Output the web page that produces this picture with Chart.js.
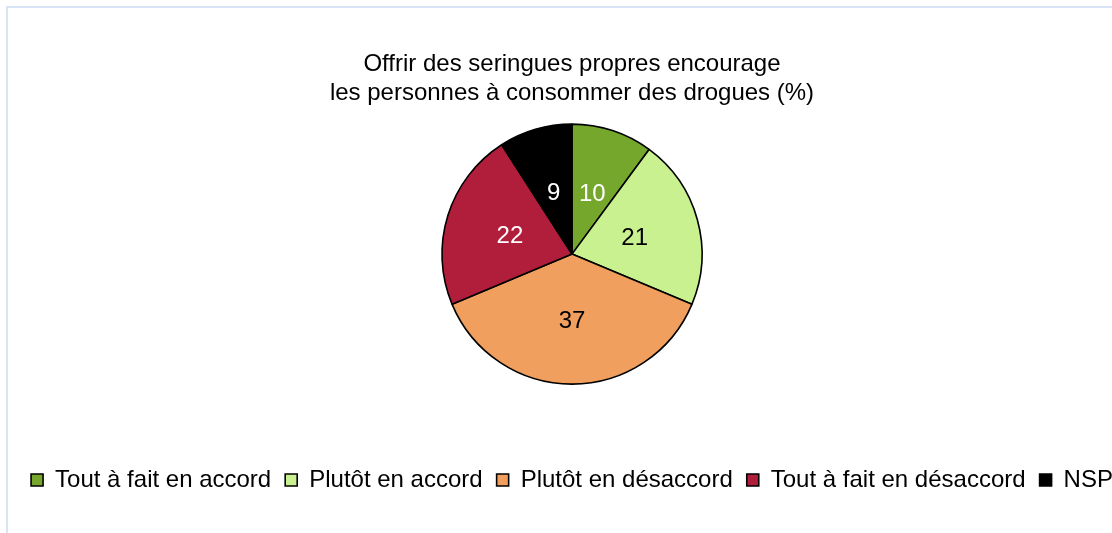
<!DOCTYPE html>
<html>
<head>
<meta charset="utf-8">
<script src="https://cdn.jsdelivr.net/npm/chart.js@4/dist/chart.umd.min.js"></script>
<style>
  html, body { margin: 0; padding: 0; background: #fff; overflow: hidden; width: 1112px; height: 533px; }
  #frame { position: absolute; left: 6px; top: 6px; border-left: 2px solid #d6e4f5; border-top: 2px solid #d6e4f5; width: 1140px; height: 540px; }
  #c { position: absolute; left: 0; top: 0; }
</style>
</head>
<body>
<div id="frame"><canvas id="c" width="1128" height="525"></canvas></div>
<script>
const titleLines = ["Offrir des seringues propres encourage", "les personnes à consommer des drogues (%)"];
const categories = ["Tout à fait en accord", "Plutôt en accord", "Plutôt en désaccord", "Tout à fait en désaccord", "NSP"];
const values = [10, 21, 37, 22, 9];
const sliceColors = ["#75a72d", "#c9f18f", "#f19f5e", "#b01e3c", "#000000"];
const labelColors = ["#ffffff", "#000000", "#000000", "#ffffff", "#ffffff"];

const FONT = '"Liberation Sans", Arial, Helvetica, sans-serif';
Chart.defaults.font.family = FONT;
Chart.defaults.color = '#000';

const sliceLabels = {
  id: 'sliceLabels',
  afterDatasetsDraw(chart) {
    const ctx = chart.ctx;
    const meta = chart.getDatasetMeta(0);
    meta.data.forEach((arc, i) => {
      const p = arc.tooltipPosition();
      ctx.save();
      ctx.font = '24px ' + FONT;
      ctx.fillStyle = labelColors[i];
      ctx.textAlign = 'center';
      ctx.textBaseline = 'middle';
      ctx.fillText(String(values[i]), p.x, p.y + 2);
      ctx.restore();
    });
  }
};

new Chart(document.getElementById('c'), {
  type: 'pie',
  data: {
    labels: categories,
    datasets: [{
      data: values,
      backgroundColor: sliceColors,
      borderColor: '#000',
      borderWidth: 1.6
    }]
  },
  options: {
    responsive: false,
    animation: false,
    events: [],
    radius: 130,
    layout: { padding: { top: 0, bottom: 31, left: 0, right: 0 } },
    plugins: {
      tooltip: { enabled: false },
      title: {
        display: true,
        text: titleLines,
        color: '#000',
        font: { size: 24, weight: 'normal', lineHeight: 1.2 },
        padding: { top: 42, bottom: 0 }
      },
      legend: {
        position: 'bottom',
        title: { display: true, text: ' ', font: { size: 12 }, padding: { top: 0, bottom: 39 } },
        labels: {
          boxWidth: 12,
          boxHeight: 12,
          padding: 14,
          color: '#000',
          font: { size: 24 }
        }
      }
    }
  },
  plugins: [sliceLabels]
});
</script>
</body>
</html>
